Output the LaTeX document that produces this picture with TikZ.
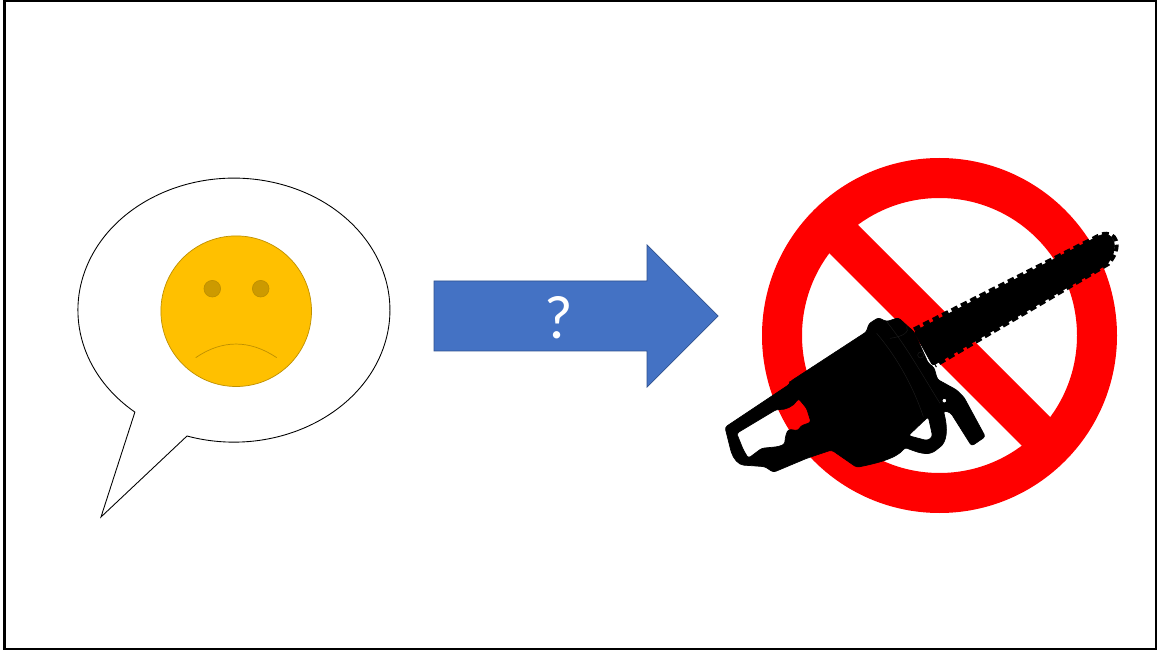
\documentclass[tikz,border=0pt]{standalone}
\usepackage{fontspec}
\usepackage{xcolor}
\setsansfont{Carlito}
\definecolor{faceyellow}{HTML}{FFC000}
\definecolor{facegold}{HTML}{BF9000}
\definecolor{eyegold}{HTML}{CC9A00}
\definecolor{arrowblue}{HTML}{4472C4}
\definecolor{arrowedge}{HTML}{2F528F}
\definecolor{signred}{HTML}{FF0000}
\definecolor{sawline}{HTML}{1C1C1C}
\tikzset{
    faceline/.style={draw=facegold, line width=0.4pt},
    sawfill/.style={fill=black, draw=black, line width=0.4pt, line join=round, rounded corners=1.5pt},
    sawdetail/.style={draw=sawline, line width=0.25pt}
}
\begin{document}
\begin{tikzpicture}[x=0.02cm, y=0.02cm]
    \useasboundingbox (0, 0) rectangle (1157, 650);
    \fill[white] (0, 0) rectangle (1157, 650);
    \draw[black, line width=1.5pt] (4.5, 1) rectangle (1156.5, 649);

    \draw[black, line width=0.5pt, fill=white] (187, 214) arc[start angle=252.5, end angle=590.6, x radius=156, y radius=132] -- (101, 133) -- cycle;

    \fill[faceyellow, faceline] (236.2, 338.8) circle[radius=75.3];
    \fill[eyegold, faceline] (212.3, 361.3) circle[radius=8.3];
    \fill[eyegold, faceline] (260.7, 361.3) circle[radius=8.3];
    \draw[faceline] (195.7, 292.3) .. controls (222, 310.5) and (250, 310.5) .. (276.7, 292.3);

    \draw[fill=arrowblue, draw=arrowedge, line width=0.4pt] (434, 369) -- (647, 369) -- (647, 405) -- (718, 334) -- (647, 263) -- (647, 299) -- (434, 299) -- cycle;
    \node[text=white, font=\sffamily\fontsize{35}{40}\selectfont, inner sep=0pt] (mark) at (558.5, 332) {?};

    \fill[signred, even odd rule] (939.5, 314.5) circle[radius=177.5] (939.5, 314.5) circle[radius=137.5];
    \fill[signred] (850, 433) -- (821, 405) -- (1029, 197) -- (1058, 225) -- cycle;

    \begin{scope}[shift={(710, 430)}, x=0.00667cm, y=-0.00667cm]
        \draw[black, line width=2.2pt, dash pattern=on 3.8pt off 2.2pt] (612, 328) -- (1172, 44) .. controls (1220, 28) and (1240, 80) .. (1195, 132) -- (675, 437);
        \draw[sawfill] (612, 335) -- (1170, 46) .. controls (1210, 36) and (1230, 80) .. (1190, 134) -- (668, 437) -- cycle;
        \draw[sawfill, even odd rule]
            (476, 312) -- (505, 293) -- (530, 305) -- (565, 293) -- (600, 325) -- (612, 335) -- (655, 430) -- (672, 442) -- (682, 478) -- (740, 510) -- (762, 532) -- (826, 650) -- (785, 678) -- (722, 578) -- (700, 572) .. controls (715, 630) and (710, 665) .. (685, 685) .. controls (660, 705) and (640, 705) .. (585, 682) .. controls (560, 715) and (500, 730) .. (440, 742) -- (365, 690) -- (290, 715) -- (190, 757) -- (165, 740) -- (110, 736) .. controls (85, 735) and (70, 715) .. (62, 690) -- (45, 622) -- (240, 492) -- (240, 485) -- (470, 335) -- cycle
            (80, 640) -- (200, 568) .. controls (225, 570) and (250, 560) .. (265, 535) -- (290, 565) -- (303, 607) -- (272, 618) -- (265, 632) -- (235, 628) .. controls (225, 650) and (225, 665) .. (225, 672) -- (205, 680) -- (155, 685) -- (115, 715) -- (100, 690) -- cycle
            (595, 647) -- (655, 590) -- (668, 650) -- (652, 662) -- cycle
            (703, 542) circle[radius=7];
        \draw[sawdetail] (530, 305) .. controls (590, 380) and (640, 470) .. (690, 550);
        \draw[sawdetail] (500, 340) .. controls (560, 410) and (610, 500) .. (640, 590);
        \draw[sawdetail] (540, 355) .. controls (580, 350) and (600, 335) .. (590, 320);
        \draw[sawdetail] (632, 405) circle[radius=9];
    \end{scope}
\end{tikzpicture}
\end{document}
